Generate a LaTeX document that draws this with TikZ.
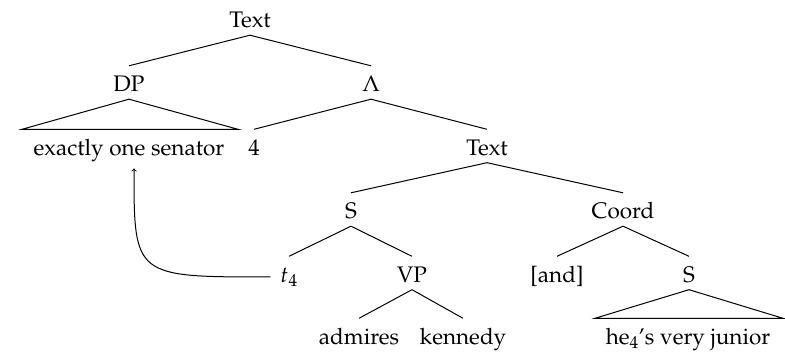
\documentclass[tikz,border=0pt]{standalone}
\usepackage[T1]{fontenc}
\usepackage{mathpazo}
\begin{document}
\begin{tikzpicture}[x=1pt,y=-1pt,
  lbl/.style={inner sep=0pt, text height=26pt, text depth=7pt, anchor=base, font=\fontsize{22.5}{27}\selectfont},
  leaf/.style={lbl, text depth=5pt},
  edge/.style={line width=1pt}]
\useasboundingbox (0,0) rectangle (785,352);
\node[lbl] (top) at (250,28) {Text};
\node[lbl] (dp) at (129,92) {DP};
\node[lbl] (lam) at (371,92) {$\Lambda$};
\node[lbl] (sen) at (129,155.5) {exactly one senator};
\node[lbl] (four) at (254,155.5) {4};
\node[lbl] (txt2) at (487,155.5) {Text};
\node[lbl] (s) at (351,219) {S};
\node[lbl] (coord) at (623,219) {Coord};
\node[lbl] (t) at (289,282.5) {$t_4$};
\node[lbl] (vp) at (412,282.5) {VP};
\node[lbl] (and) at (557,282.5) {[and]};
\node[lbl] (s2) at (689,282.5) {S};
\node[leaf] (adm) at (359,344.5) {admires};
\node[leaf] (ken) at (463,344.5) {kennedy};
\node[leaf] (he) at (688,344.5) {he$_4$\textquoteright s very junior};
\draw[edge] (top.south) -- (dp.north);
\draw[edge] (top.south) -- (lam.north);
\draw[edge] (dp.south) -- ([xshift=-107pt]sen.north) -- ([xshift=109pt]sen.north) -- cycle;
\draw[edge] (lam.south) -- (four.north);
\draw[edge] (lam.south) -- (txt2.north);
\draw[edge] (txt2.south) -- (s.north);
\draw[edge] (txt2.south) -- (coord.north);
\draw[edge] (s.south) -- (t.north);
\draw[edge] (s.south) -- (vp.north);
\draw[edge] (vp.south) -- (adm.north);
\draw[edge] (vp.south) -- (ken.north);
\draw[edge] (coord.south) -- (and.north);
\draw[edge] (coord.south) -- (s2.north);
\draw[edge] (s2.south) -- ([xshift=-93pt]he.north) -- ([xshift=95pt]he.north) -- cycle;
\draw[edge,->] ([shift={(-10,-5.5)}]t.base west) .. controls (134,277) and (134,277) .. ([shift={(5,13)}]sen.base);
\end{tikzpicture}
\end{document}
